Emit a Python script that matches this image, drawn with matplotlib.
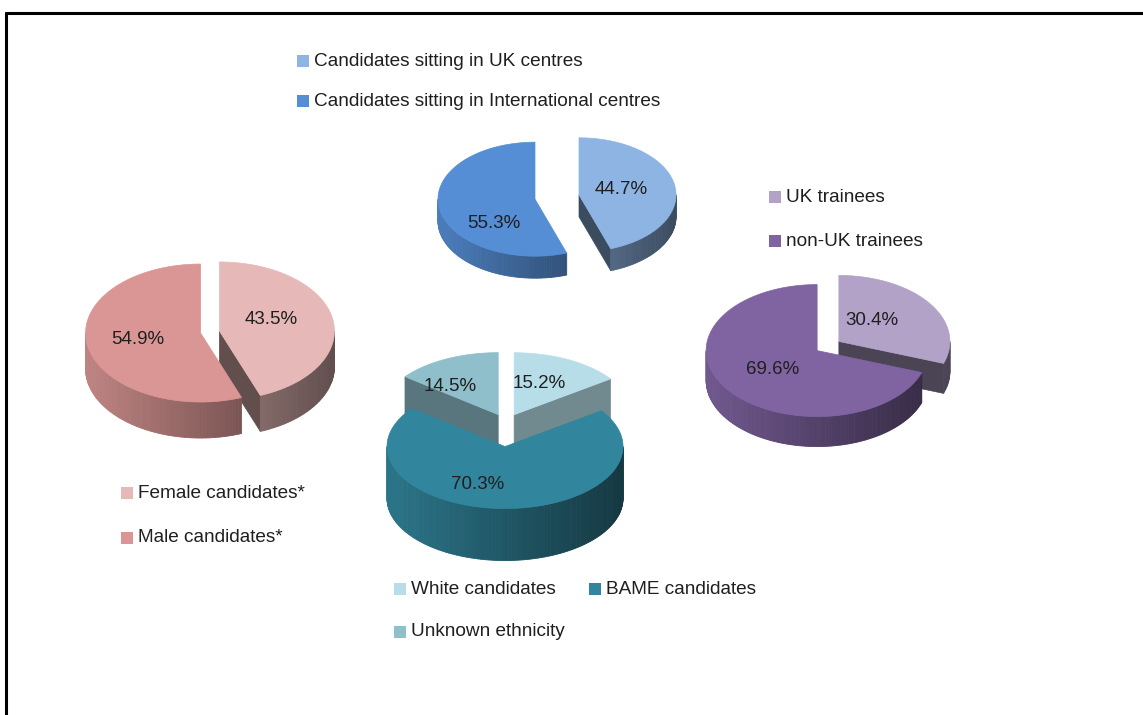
import numpy as np
import matplotlib.pyplot as plt
from matplotlib.patches import Polygon, Rectangle
from matplotlib.colors import to_rgb

plt.rcParams['font.family'] = ['Liberation Sans', 'DejaVu Sans']

# data
centre_labels = ['Candidates sitting in UK centres', 'Candidates sitting in International centres']
centre_values = [44.7, 55.3]
gender_labels = ['Female candidates*', 'Male candidates*']
gender_values = [43.5, 54.9]
trainee_labels = ['UK trainees', 'non-UK trainees']
trainee_values = [30.4, 69.6]
ethnicity_labels = ['White candidates', 'BAME candidates', 'Unknown ethnicity']
ethnicity_values = [15.2, 70.3, 14.5]

# colours
centre_colors = ['#8EB4E3', '#558ED5']
gender_colors = ['#E6B9B8', '#D99694']
trainee_colors = ['#B3A2C7', '#8064A2']
ethnicity_colors = ['#B7DEE8', '#31859C', '#8FBFCB']

TEXT = '#1f1f1f'


def shade(col, f):
    r, g, b = to_rgb(col)
    return (r * f, g * f, b * f)


def rim(c, t, rx, ry, z=0.0):
    return (c[0] + rx * np.sin(t), c[1] - ry * np.cos(t) + z)


def pie3d(ax, values, colors, centre, rx, ry, depth, explode, cut_f, label_uv):
    total = sum(values)
    a = 0.0
    slices = []
    for v, col, ex, uv in zip(values, colors, explode, label_uv):
        a0, a1 = a, a + 2 * np.pi * v / total
        a = a1
        mid = (a0 + a1) / 2
        c = (centre[0] + ex * rx * np.sin(mid), centre[1] - ex * ry * np.cos(mid))
        slices.append((c, a0, a1, col, v, uv))

    # side walls, back slices first
    for c, a0, a1, col, v, uv in sorted(slices, key=lambda s: s[0][1]):
        bottom_c = (c[0], c[1] + depth)
        if np.sin(a0) < -1e-6:
            ax.add_patch(Polygon([c, rim(c, a0, rx, ry), rim(c, a0, rx, ry, depth), bottom_c],
                                 closed=True, fc=shade(col, cut_f), ec=shade(col, cut_f), lw=0.5))
        if np.sin(a1) > 1e-6:
            ax.add_patch(Polygon([c, rim(c, a1, rx, ry), rim(c, a1, rx, ry, depth), bottom_c],
                                 closed=True, fc=shade(col, cut_f), ec=shade(col, cut_f), lw=0.5))
        lo, hi = max(a0, np.pi / 2), min(a1, 1.5 * np.pi)
        if hi > lo:
            n = max(2, int(np.degrees(hi - lo) / 1.5))
            ts = np.linspace(lo, hi, n + 1)
            for t0, t1 in zip(ts[:-1], ts[1:]):
                s = (1 + np.sin((t0 + t1) / 2)) / 2
                fc = shade(col, 0.88 - 0.46 * s)
                ax.add_patch(Polygon([rim(c, t0, rx, ry), rim(c, t1, rx, ry),
                                      rim(c, t1, rx, ry, depth), rim(c, t0, rx, ry, depth)],
                                     closed=True, fc=fc, ec=fc, lw=0.6))

    # top faces and labels
    for c, a0, a1, col, v, uv in slices:
        ts = np.linspace(a0, a1, 150)
        ax.add_patch(Polygon([c] + [rim(c, t, rx, ry) for t in ts], closed=True,
                             fc=col, ec=col, lw=0.5))
        ax.text(c[0] + uv[0] * rx, c[1] + uv[1] * ry, f'{v:.1f}%', ha='center', va='center',
                fontsize=13.5, color=TEXT)


def legend(ax, x, y, color, text):
    ax.add_patch(Rectangle((x, y - 6), 12, 12, fc=color, ec='none'))
    ax.text(x + 17, y, text, ha='left', va='center', fontsize=13.7, color=TEXT)


fig = plt.figure(figsize=(11.43, 7.15), dpi=100)
ax = fig.add_axes([0, 0, 1, 1])
ax.set_xlim(0, 1143)
ax.set_ylim(715, 0)
ax.axis('off')

# frame
ax.plot([5, 1143], [13, 13], color='black', lw=2.2, solid_capstyle='butt')
ax.plot([5.5, 5.5], [12, 715], color='black', lw=2.2, solid_capstyle='butt')

pie3d(ax, centre_values, centre_colors, (557, 197), 97, 57, 22, [0.23, 0.23], 0.42,
      [(0.43, -0.10), (-0.42, 0.42)])
pie3d(ax, gender_values, gender_colors, (210, 332), 115, 69, 36, [0.083, 0.083], 0.42,
      [(0.45, -0.16), (-0.55, 0.10)])
pie3d(ax, trainee_values, trainee_colors, (828, 346), 111, 66, 30, [0.12, 0.12], 0.42,
      [(0.30, -0.31), (-0.40, 0.29)])
pie3d(ax, ethnicity_values, ethnicity_colors, (506, 423), 118, 62, 52, [0.15, 0.38, 0.15], 0.62,
      [(0.21, -0.50), (-0.23, 0.62), (-0.41, -0.46)])

legend(ax, 297, 61, centre_colors[0], centre_labels[0])
legend(ax, 297, 101, centre_colors[1], centre_labels[1])
legend(ax, 769, 197, trainee_colors[0], trainee_labels[0])
legend(ax, 769, 241, trainee_colors[1], trainee_labels[1])
legend(ax, 121, 493, gender_colors[0], gender_labels[0])
legend(ax, 121, 538, gender_colors[1], gender_labels[1])
legend(ax, 394, 589, ethnicity_colors[0], ethnicity_labels[0])
legend(ax, 589, 589, ethnicity_colors[1], ethnicity_labels[1])
legend(ax, 394, 632, ethnicity_colors[2], ethnicity_labels[2])

fig.savefig('out.png', dpi=100)
